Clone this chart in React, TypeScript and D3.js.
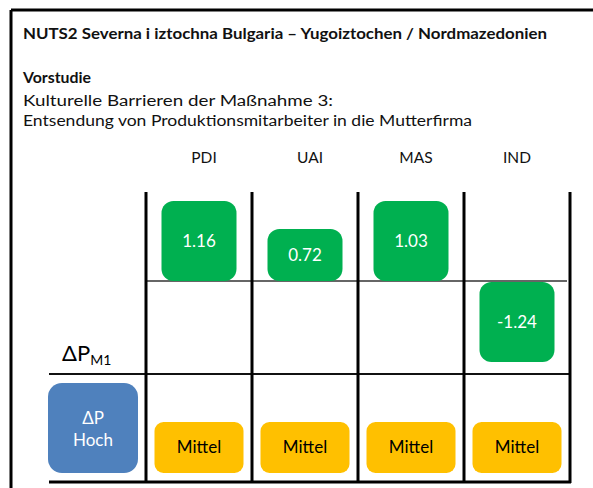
import React from "react";
import * as d3 from "d3";

const titleLines = [
  "NUTS2 Severna i iztochna Bulgaria – Yugoiztochen / Nordmazedonien",
];
const subtitleBold = "Vorstudie";
const subtitleLines = [
  "Kulturelle Barrieren der Maßnahme 3:",
  "Entsendung von Produktionsmitarbeiter in die Mutterfirma",
];
const categories = ["PDI", "UAI", "MAS", "IND"];
const deltaValues = [1.16, 0.72, 1.03, -1.24];
const levelLabels = ["Mittel", "Mittel", "Mittel", "Mittel"];
const overallLabel = ["ΔP", "Hoch"];

const W = 593;
const H = 488;
const FONT = "Lato, 'Open Sans', sans-serif";
const GREEN = "#00B050";
const YELLOW = "#FFC000";
const BLUE = "#4F81BD";

export default function App() {
  const x = d3.scaleBand<string>().domain(categories).range([146, 570]);
  const bw = x.bandwidth();
  const baseY = 281;
  const h = d3.scaleLinear().domain([0.2, 1.0]).range([0, 80]).clamp(true);
  const boxW = 75;
  const midY = 374;
  const bottomY = 482;
  const gridTop = 192;
  const mittelTop = 422;
  const mittelH = 51;
  const mittelW = 89;

  const boundaries = categories.map((c) => x(c)!).concat([x.range()[1]]);

  return (
    <svg
      width={W}
      height={H}
      style={{ position: "absolute", left: 0, top: 0, background: "#fff" }}
      fontFamily={FONT}
    >
      <rect x={0} y={0} width={W} height={H} fill="#fff" />
      {/* outer frame */}
      <line x1={11} y1={10} x2={W + 5} y2={10} stroke="#000" strokeWidth={3} />
      <line x1={11} y1={10} x2={11} y2={H + 5} stroke="#000" strokeWidth={3} />

      {/* title texts */}
      <text x={23} y={39} fontSize={15} fontWeight="bold" fill="#111" textLength={524} lengthAdjust="spacingAndGlyphs">
        {titleLines[0]}
      </text>
      <text x={23} y={83} fontSize={15.5} fontWeight="bold" fill="#111" textLength={68} lengthAdjust="spacingAndGlyphs">
        {subtitleBold}
      </text>
      <text x={23} y={106} fontSize={15.5} fill="#111" textLength={310} lengthAdjust="spacingAndGlyphs">
        {subtitleLines[0]}
      </text>
      <text x={23} y={126} fontSize={15.5} fill="#111" textLength={449} lengthAdjust="spacingAndGlyphs">
        {subtitleLines[1]}
      </text>

      {/* column headers */}
      {categories.map((c, i) => (
        <text
          key={c}
          x={x(c)! + bw / 2 + (i < 3 ? 5 : 0)}
          y={163}
          fontSize={15.5}
          textAnchor="middle"
          fill="#111"
        >
          {c}
        </text>
      ))}

      {/* horizontal lines */}
      <line x1={146} y1={baseY} x2={567} y2={baseY} stroke="#333" strokeWidth={1.5} />
      <line x1={49} y1={midY} x2={570} y2={midY} stroke="#111" strokeWidth={2} />
      <line x1={49} y1={bottomY} x2={571} y2={bottomY} stroke="#000" strokeWidth={3} />

      {/* vertical lines */}
      {boundaries.map((bx, i) => (
        <line key={i} x1={bx} y1={gridTop} x2={bx} y2={bottomY + 1} stroke="#000" strokeWidth={3} />
      ))}

      {/* green delta boxes */}
      {categories.map((c, i) => {
        const v = deltaValues[i];
        const bh = h(Math.abs(v));
        const cx = x(c)! + bw / 2;
        const y0 = v >= 0 ? baseY - bh : baseY + 1;
        return (
          <g key={c}>
            <rect x={cx - boxW / 2} y={y0} width={boxW} height={bh} rx={12} ry={12} fill={GREEN} />
            <text
              x={cx}
              y={y0 + bh / 2}
              dy="0.35em"
              fontSize={17}
              textAnchor="middle"
              fill="#fff"
            >
              {v.toFixed(2)}
            </text>
          </g>
        );
      })}

      {/* ΔP_M1 label */}
      <text x={62} y={361} fontSize={22} fill="#000">
        ΔP
        <tspan fontSize={14} dy={4}>M1</tspan>
      </text>

      {/* blue overall box */}
      <rect x={48} y={383} width={90} height={90} rx={14} ry={14} fill={BLUE} />
      <text x={93} y={418} dy="0.35em" fontSize={17} textAnchor="middle" fill="#fff">
        {overallLabel[0]}
      </text>
      <text x={93} y={440} dy="0.35em" fontSize={17} textAnchor="middle" fill="#fff">
        {overallLabel[1]}
      </text>

      {/* yellow level boxes */}
      {categories.map((c, i) => {
        const cx = x(c)! + bw / 2;
        return (
          <g key={c}>
            <rect x={cx - mittelW / 2} y={mittelTop} width={mittelW} height={mittelH} rx={9} ry={9} fill={YELLOW} />
            <text
              x={cx}
              y={mittelTop + mittelH / 2}
              dy="0.35em"
              fontSize={17}
              textAnchor="middle"
              fill="#000"
            >
              {levelLabels[i]}
            </text>
          </g>
        );
      })}
    </svg>
  );
}
